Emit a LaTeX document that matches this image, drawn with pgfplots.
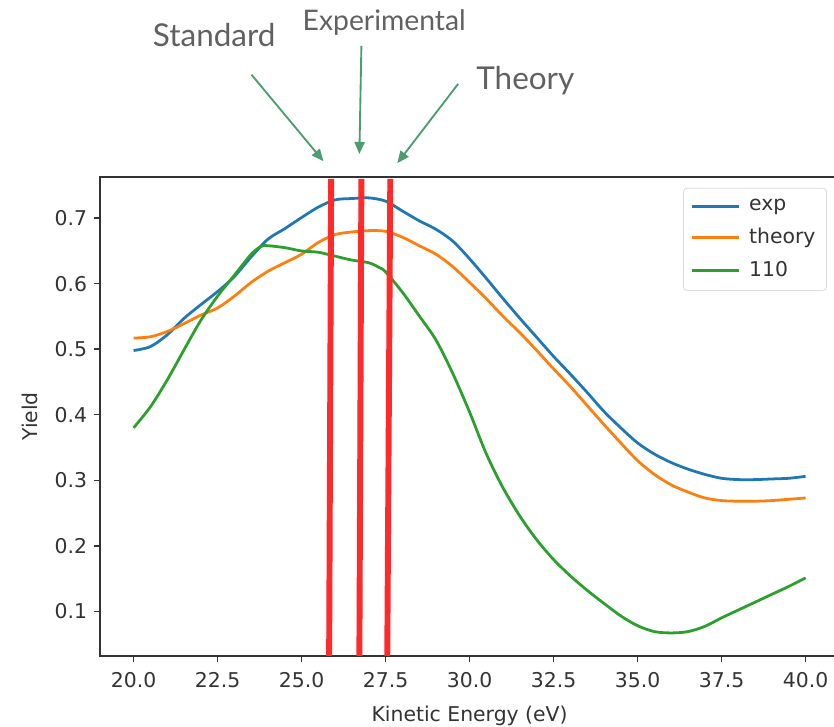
\documentclass[border=0pt]{standalone}
\usepackage{fontspec}
\setmainfont{DejaVu Sans}
\newfontfamily\annfont{Lato}
\usepackage{pgfplots}
\pgfplotsset{compat=1.18}
\usetikzlibrary{arrows.meta}

\definecolor{mplblue}{HTML}{1F77B4}
\definecolor{mplorange}{HTML}{FF7F0E}
\definecolor{mplgreen}{HTML}{2CA02C}
\definecolor{markred}{HTML}{FF2A2A}
\definecolor{arrowgreen}{HTML}{4A9E6E}
\definecolor{annogray}{HTML}{616161}

\begin{document}
\begin{tikzpicture}
\begin{axis}[
  at={(0,0)}, anchor=south west,
  scale only axis,
  width=399.2pt, height=258.66pt,
  xmin=19, xmax=41, ymin=0.032, ymax=0.763,
  xtick={20,22.5,25,27.5,30,32.5,35,37.5,40},
  ytick={0.1,0.2,0.3,0.4,0.5,0.6,0.7},
  xticklabel style={/pgf/number format/fixed, /pgf/number format/fixed zerofill, /pgf/number format/precision=1, yshift=-2pt},
  yticklabel style={/pgf/number format/fixed, /pgf/number format/fixed zerofill, /pgf/number format/precision=1},
  /pgf/number format/assume math mode=true,
  tick label style={font=\fontsize{11}{13}\selectfont, color=black!80},
  label style={font=\fontsize{11}{13}\selectfont, color=black!80},
  xlabel={Kinetic Energy (eV)},
  ylabel={Yield},
  xlabel style={yshift=-3pt},
  ylabel style={yshift=2pt},
  tick align=outside, tick pos=left,
  major tick length=3.5pt,
  every tick/.style={black!80, line width=0.8pt},
  axis line style={black!80, line width=0.8pt},
  clip=false,
  legend style={at={(axis description cs:1,1)}, anchor=north east, xshift=-6.6pt, yshift=-5.9pt,
    draw=black!15, rounded corners=2pt, font=\fontsize{11}{13}\selectfont, text=black!80,
    inner xsep=4pt, inner ysep=4pt, row sep=4pt,
    /tikz/every odd column/.append style={column sep=3pt}},
  legend cell align=left,
  legend image code/.code={\draw[#1] (0pt,0pt) -- (25pt,0pt);},
]
\addplot[mplblue, line width=1.5pt, smooth] coordinates {
(20.0,0.498) (20.5,0.504) (21.0,0.522) (21.5,0.547) (22.0,0.568) (22.5,0.588)
(23.0,0.611) (23.5,0.641) (24.0,0.668) (24.5,0.684) (25.0,0.701) (25.5,0.717)
(26.0,0.728) (26.5,0.730) (27.0,0.731) (27.5,0.726) (28.0,0.711) (28.5,0.696)
(29.0,0.683) (29.5,0.665) (30.0,0.638) (30.5,0.608) (31.0,0.577) (31.5,0.547)
(32.0,0.518) (32.5,0.489) (33.0,0.462) (33.5,0.434) (34.0,0.405) (34.5,0.380)
(35.0,0.357) (35.5,0.340) (36.0,0.327) (36.5,0.317) (37.0,0.309) (37.5,0.303)
(38.0,0.301) (38.5,0.301) (39.0,0.302) (39.5,0.303) (40.0,0.306)};
\addlegendentry{exp}
\addplot[mplorange, line width=1.5pt, smooth] coordinates {
(20.0,0.517) (20.5,0.519) (21.0,0.527) (21.5,0.539) (22.0,0.552) (22.5,0.563)
(23.0,0.581) (23.5,0.602) (24.0,0.619) (24.5,0.632) (25.0,0.645) (25.5,0.663)
(26.0,0.675) (26.5,0.679) (27.0,0.681) (27.5,0.680) (28.0,0.671) (28.5,0.658)
(29.0,0.645) (29.5,0.626) (30.0,0.602) (30.5,0.577) (31.0,0.550) (31.5,0.525)
(32.0,0.498) (32.5,0.470) (33.0,0.443) (33.5,0.414) (34.0,0.385) (34.5,0.357)
(35.0,0.330) (35.5,0.309) (36.0,0.293) (36.5,0.282) (37.0,0.273) (37.5,0.269)
(38.0,0.268) (38.5,0.268) (39.0,0.269) (39.5,0.271) (40.0,0.273)};
\addlegendentry{theory}
\addplot[mplgreen, line width=1.5pt, smooth] coordinates {
(20.0,0.380) (20.5,0.412) (21.0,0.453) (21.5,0.499) (22.0,0.544) (22.5,0.581)
(23.0,0.613) (23.5,0.645) (23.8,0.657) (24.0,0.658) (24.5,0.655) (25.0,0.650)
(25.5,0.648) (26.0,0.642) (26.5,0.636) (27.0,0.632) (27.3,0.625) (27.5,0.618)
(28.0,0.587) (28.5,0.551) (29.0,0.514) (29.5,0.463) (30.0,0.404) (30.5,0.340)
(31.0,0.288) (31.5,0.245) (32.0,0.209) (32.5,0.179) (33.0,0.154) (33.5,0.132)
(34.0,0.112) (34.5,0.093) (35.0,0.078) (35.5,0.069) (36.0,0.067) (36.5,0.069)
(37.0,0.077) (37.5,0.090) (38.0,0.102) (38.5,0.114) (39.0,0.126) (39.5,0.138)
(40.0,0.151)};
\addlegendentry{110}
% red markers
\addplot[markred, line width=3.2pt, forget plot] coordinates {(25.82,0.032) (25.88,0.760)};
\addplot[markred, line width=3.2pt, forget plot] coordinates {(26.72,0.032) (26.78,0.760)};
\addplot[markred, line width=3.2pt, forget plot] coordinates {(27.55,0.032) (27.64,0.760)};
% annotations
\draw[arrowgreen, line width=1pt, -{Triangle[length=6.5pt,width=5.5pt]}] (axis cs:23.51,0.919) -- (axis cs:25.65,0.787);
\draw[arrowgreen, line width=1pt, -{Triangle[length=6.5pt,width=5.5pt]}] (axis cs:26.78,0.963) -- (axis cs:26.72,0.798);
\draw[arrowgreen, line width=1pt, -{Triangle[length=6.5pt,width=5.5pt]}] (axis cs:29.66,0.905) -- (axis cs:27.85,0.784);
\node[anchor=base, text=annogray, font=\annfont\fontsize{17}{20}\selectfont, inner sep=0pt] at (axis cs:22.40,0.9615) {Standard};
\node[anchor=base, text=annogray, font=\annfont\fontsize{15.3}{18}\selectfont, inner sep=0pt] at (axis cs:27.46,0.986) {Experimental};
\node[anchor=base, text=annogray, font=\annfont\fontsize{17}{20}\selectfont, inner sep=0pt] at (axis cs:31.66,0.897) {Theory};
\end{axis}
\pgfresetboundingbox
\path[use as bounding box] (-54pt,-38.3pt) rectangle (396.4pt,354.2pt);
\end{tikzpicture}
\end{document}
